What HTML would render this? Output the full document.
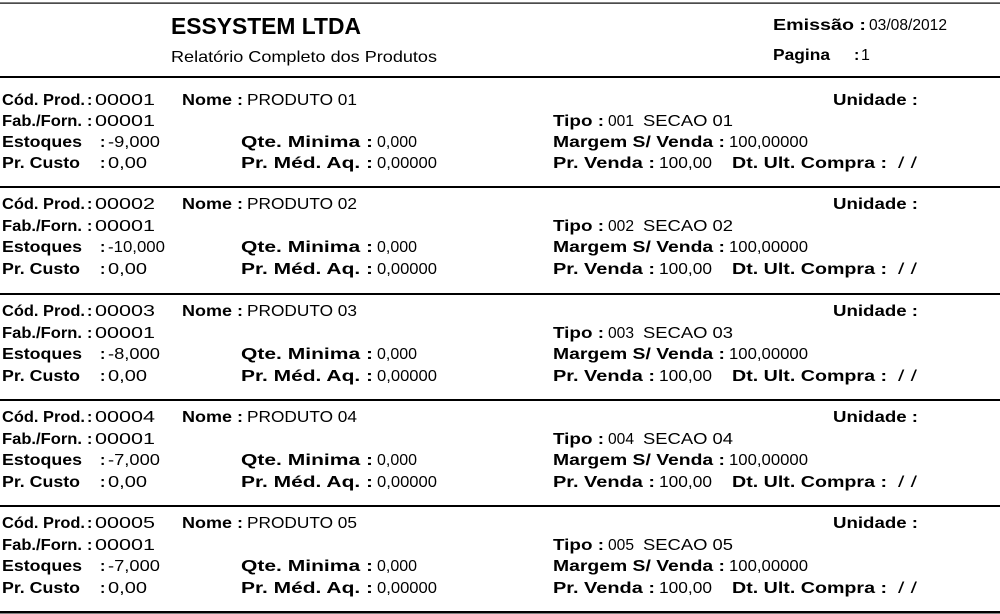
<!DOCTYPE html>
<html>
<head>
<meta charset="utf-8">
<style>
html,body{margin:0;padding:0;background:#fff;}
svg{display:block;}
text{font-family:"Liberation Sans",Arial,sans-serif;font-size:16px;fill:#000;}
.b{font-weight:bold;}
.h1{font-size:23px;font-weight:bold;}
</style>
</head>
<body>
<svg width="1000" height="614" viewBox="0 0 1000 614" xmlns="http://www.w3.org/2000/svg">
<rect x="0" y="0" width="1000" height="614" fill="#fff"/>
<!-- lines -->
<rect x="0" y="2.5" width="1000" height="1.2" fill="#000"/>
<rect x="0" y="76" width="1000" height="2" fill="#000"/>
<rect x="0" y="186" width="1000" height="2" fill="#000"/>
<rect x="0" y="293" width="1000" height="2" fill="#000"/>
<rect x="0" y="399" width="1000" height="2" fill="#000"/>
<rect x="0" y="505" width="1000" height="2" fill="#000"/>
<rect x="0" y="611" width="1000" height="2.5" fill="#000"/>

<!-- header -->
<text x="171" y="34" class="h1" textLength="190" lengthAdjust="spacingAndGlyphs">ESSYSTEM LTDA</text>
<text x="171" y="62" textLength="266" lengthAdjust="spacingAndGlyphs">Relatório Completo dos Produtos</text>
<text x="773" y="30" class="b" textLength="93" lengthAdjust="spacingAndGlyphs">Emissão :</text>
<text x="869" y="30" textLength="78" lengthAdjust="spacingAndGlyphs">03/08/2012</text>
<text x="773" y="60" class="b" textLength="57" lengthAdjust="spacingAndGlyphs">Pagina</text>
<text x="854" y="60" class="b">:</text>
<text x="861" y="60">1</text>

<!-- record 1 -->
<g>
<text x="2" y="105" class="b" textLength="83" lengthAdjust="spacingAndGlyphs">Cód. Prod.</text>
<text x="87" y="105" class="b">:</text>
<text x="95" y="105" textLength="60" lengthAdjust="spacingAndGlyphs">00001</text>
<text x="182" y="105" class="b" textLength="61" lengthAdjust="spacingAndGlyphs">Nome :</text>
<text x="247" y="105" textLength="110" lengthAdjust="spacingAndGlyphs">PRODUTO 01</text>
<text x="833" y="105" class="b" textLength="85" lengthAdjust="spacingAndGlyphs">Unidade :</text>

<text x="2" y="126" class="b" textLength="80" lengthAdjust="spacingAndGlyphs">Fab./Forn.</text>
<text x="87" y="126" class="b">:</text>
<text x="95" y="126" textLength="60" lengthAdjust="spacingAndGlyphs">00001</text>
<text x="553" y="126" class="b" textLength="51" lengthAdjust="spacingAndGlyphs">Tipo :</text>
<text x="608" y="126" textLength="26" lengthAdjust="spacingAndGlyphs">001</text>
<text x="643" y="126" textLength="90" lengthAdjust="spacingAndGlyphs">SECAO 01</text>

<text x="2" y="147" class="b" textLength="80" lengthAdjust="spacingAndGlyphs">Estoques</text>
<text x="100" y="147" class="b">:</text>
<text x="108" y="147" textLength="52" lengthAdjust="spacingAndGlyphs">-9,000</text>
<text x="241" y="147" class="b" textLength="132" lengthAdjust="spacingAndGlyphs">Qte. Minima :</text>
<text x="377" y="147" textLength="40" lengthAdjust="spacingAndGlyphs">0,000</text>
<text x="553" y="147" class="b" textLength="172" lengthAdjust="spacingAndGlyphs">Margem S/ Venda :</text>
<text x="729" y="147" textLength="79" lengthAdjust="spacingAndGlyphs">100,00000</text>

<text x="2" y="168" class="b" textLength="78" lengthAdjust="spacingAndGlyphs">Pr. Custo</text>
<text x="100" y="168" class="b">:</text>
<text x="108" y="168" textLength="39" lengthAdjust="spacingAndGlyphs">0,00</text>
<text x="241" y="168" class="b" textLength="132" lengthAdjust="spacingAndGlyphs">Pr. Méd. Aq. :</text>
<text x="377" y="168" textLength="60" lengthAdjust="spacingAndGlyphs">0,00000</text>
<text x="553" y="168" class="b" textLength="102" lengthAdjust="spacingAndGlyphs">Pr. Venda :</text>
<text x="659" y="168" textLength="53" lengthAdjust="spacingAndGlyphs">100,00</text>
<text x="732" y="168" class="b" textLength="155" lengthAdjust="spacingAndGlyphs">Dt. Ult. Compra :</text>
<text x="898" y="168" textLength="19" lengthAdjust="spacingAndGlyphs">/ /</text>
</g>

<!-- record 2 -->
<g>
<text x="2" y="209" class="b" textLength="83" lengthAdjust="spacingAndGlyphs">Cód. Prod.</text>
<text x="87" y="209" class="b">:</text>
<text x="95" y="209" textLength="60" lengthAdjust="spacingAndGlyphs">00002</text>
<text x="182" y="209" class="b" textLength="61" lengthAdjust="spacingAndGlyphs">Nome :</text>
<text x="247" y="209" textLength="110" lengthAdjust="spacingAndGlyphs">PRODUTO 02</text>
<text x="833" y="209" class="b" textLength="85" lengthAdjust="spacingAndGlyphs">Unidade :</text>

<text x="2" y="231" class="b" textLength="80" lengthAdjust="spacingAndGlyphs">Fab./Forn.</text>
<text x="87" y="231" class="b">:</text>
<text x="95" y="231" textLength="60" lengthAdjust="spacingAndGlyphs">00001</text>
<text x="553" y="231" class="b" textLength="51" lengthAdjust="spacingAndGlyphs">Tipo :</text>
<text x="608" y="231" textLength="26" lengthAdjust="spacingAndGlyphs">002</text>
<text x="643" y="231" textLength="90" lengthAdjust="spacingAndGlyphs">SECAO 02</text>

<text x="2" y="252" class="b" textLength="80" lengthAdjust="spacingAndGlyphs">Estoques</text>
<text x="100" y="252" class="b">:</text>
<text x="108" y="252" textLength="57" lengthAdjust="spacingAndGlyphs">-10,000</text>
<text x="241" y="252" class="b" textLength="132" lengthAdjust="spacingAndGlyphs">Qte. Minima :</text>
<text x="377" y="252" textLength="40" lengthAdjust="spacingAndGlyphs">0,000</text>
<text x="553" y="252" class="b" textLength="172" lengthAdjust="spacingAndGlyphs">Margem S/ Venda :</text>
<text x="729" y="252" textLength="79" lengthAdjust="spacingAndGlyphs">100,00000</text>

<text x="2" y="274" class="b" textLength="78" lengthAdjust="spacingAndGlyphs">Pr. Custo</text>
<text x="100" y="274" class="b">:</text>
<text x="108" y="274" textLength="39" lengthAdjust="spacingAndGlyphs">0,00</text>
<text x="241" y="274" class="b" textLength="132" lengthAdjust="spacingAndGlyphs">Pr. Méd. Aq. :</text>
<text x="377" y="274" textLength="60" lengthAdjust="spacingAndGlyphs">0,00000</text>
<text x="553" y="274" class="b" textLength="102" lengthAdjust="spacingAndGlyphs">Pr. Venda :</text>
<text x="659" y="274" textLength="53" lengthAdjust="spacingAndGlyphs">100,00</text>
<text x="732" y="274" class="b" textLength="155" lengthAdjust="spacingAndGlyphs">Dt. Ult. Compra :</text>
<text x="898" y="274" textLength="19" lengthAdjust="spacingAndGlyphs">/ /</text>
</g>

<!-- record 3 -->
<g>
<text x="2" y="316" class="b" textLength="83" lengthAdjust="spacingAndGlyphs">Cód. Prod.</text>
<text x="87" y="316" class="b">:</text>
<text x="95" y="316" textLength="60" lengthAdjust="spacingAndGlyphs">00003</text>
<text x="182" y="316" class="b" textLength="61" lengthAdjust="spacingAndGlyphs">Nome :</text>
<text x="247" y="316" textLength="110" lengthAdjust="spacingAndGlyphs">PRODUTO 03</text>
<text x="833" y="316" class="b" textLength="85" lengthAdjust="spacingAndGlyphs">Unidade :</text>

<text x="2" y="338" class="b" textLength="80" lengthAdjust="spacingAndGlyphs">Fab./Forn.</text>
<text x="87" y="338" class="b">:</text>
<text x="95" y="338" textLength="60" lengthAdjust="spacingAndGlyphs">00001</text>
<text x="553" y="338" class="b" textLength="51" lengthAdjust="spacingAndGlyphs">Tipo :</text>
<text x="608" y="338" textLength="26" lengthAdjust="spacingAndGlyphs">003</text>
<text x="643" y="338" textLength="90" lengthAdjust="spacingAndGlyphs">SECAO 03</text>

<text x="2" y="359" class="b" textLength="80" lengthAdjust="spacingAndGlyphs">Estoques</text>
<text x="100" y="359" class="b">:</text>
<text x="108" y="359" textLength="52" lengthAdjust="spacingAndGlyphs">-8,000</text>
<text x="241" y="359" class="b" textLength="132" lengthAdjust="spacingAndGlyphs">Qte. Minima :</text>
<text x="377" y="359" textLength="40" lengthAdjust="spacingAndGlyphs">0,000</text>
<text x="553" y="359" class="b" textLength="172" lengthAdjust="spacingAndGlyphs">Margem S/ Venda :</text>
<text x="729" y="359" textLength="79" lengthAdjust="spacingAndGlyphs">100,00000</text>

<text x="2" y="381" class="b" textLength="78" lengthAdjust="spacingAndGlyphs">Pr. Custo</text>
<text x="100" y="381" class="b">:</text>
<text x="108" y="381" textLength="39" lengthAdjust="spacingAndGlyphs">0,00</text>
<text x="241" y="381" class="b" textLength="132" lengthAdjust="spacingAndGlyphs">Pr. Méd. Aq. :</text>
<text x="377" y="381" textLength="60" lengthAdjust="spacingAndGlyphs">0,00000</text>
<text x="553" y="381" class="b" textLength="102" lengthAdjust="spacingAndGlyphs">Pr. Venda :</text>
<text x="659" y="381" textLength="53" lengthAdjust="spacingAndGlyphs">100,00</text>
<text x="732" y="381" class="b" textLength="155" lengthAdjust="spacingAndGlyphs">Dt. Ult. Compra :</text>
<text x="898" y="381" textLength="19" lengthAdjust="spacingAndGlyphs">/ /</text>
</g>

<!-- record 4 -->
<g>
<text x="2" y="422" class="b" textLength="83" lengthAdjust="spacingAndGlyphs">Cód. Prod.</text>
<text x="87" y="422" class="b">:</text>
<text x="95" y="422" textLength="60" lengthAdjust="spacingAndGlyphs">00004</text>
<text x="182" y="422" class="b" textLength="61" lengthAdjust="spacingAndGlyphs">Nome :</text>
<text x="247" y="422" textLength="110" lengthAdjust="spacingAndGlyphs">PRODUTO 04</text>
<text x="833" y="422" class="b" textLength="85" lengthAdjust="spacingAndGlyphs">Unidade :</text>

<text x="2" y="444" class="b" textLength="80" lengthAdjust="spacingAndGlyphs">Fab./Forn.</text>
<text x="87" y="444" class="b">:</text>
<text x="95" y="444" textLength="60" lengthAdjust="spacingAndGlyphs">00001</text>
<text x="553" y="444" class="b" textLength="51" lengthAdjust="spacingAndGlyphs">Tipo :</text>
<text x="608" y="444" textLength="26" lengthAdjust="spacingAndGlyphs">004</text>
<text x="643" y="444" textLength="90" lengthAdjust="spacingAndGlyphs">SECAO 04</text>

<text x="2" y="465" class="b" textLength="80" lengthAdjust="spacingAndGlyphs">Estoques</text>
<text x="100" y="465" class="b">:</text>
<text x="108" y="465" textLength="52" lengthAdjust="spacingAndGlyphs">-7,000</text>
<text x="241" y="465" class="b" textLength="132" lengthAdjust="spacingAndGlyphs">Qte. Minima :</text>
<text x="377" y="465" textLength="40" lengthAdjust="spacingAndGlyphs">0,000</text>
<text x="553" y="465" class="b" textLength="172" lengthAdjust="spacingAndGlyphs">Margem S/ Venda :</text>
<text x="729" y="465" textLength="79" lengthAdjust="spacingAndGlyphs">100,00000</text>

<text x="2" y="487" class="b" textLength="78" lengthAdjust="spacingAndGlyphs">Pr. Custo</text>
<text x="100" y="487" class="b">:</text>
<text x="108" y="487" textLength="39" lengthAdjust="spacingAndGlyphs">0,00</text>
<text x="241" y="487" class="b" textLength="132" lengthAdjust="spacingAndGlyphs">Pr. Méd. Aq. :</text>
<text x="377" y="487" textLength="60" lengthAdjust="spacingAndGlyphs">0,00000</text>
<text x="553" y="487" class="b" textLength="102" lengthAdjust="spacingAndGlyphs">Pr. Venda :</text>
<text x="659" y="487" textLength="53" lengthAdjust="spacingAndGlyphs">100,00</text>
<text x="732" y="487" class="b" textLength="155" lengthAdjust="spacingAndGlyphs">Dt. Ult. Compra :</text>
<text x="898" y="487" textLength="19" lengthAdjust="spacingAndGlyphs">/ /</text>
</g>

<!-- record 5 -->
<g>
<text x="2" y="528" class="b" textLength="83" lengthAdjust="spacingAndGlyphs">Cód. Prod.</text>
<text x="87" y="528" class="b">:</text>
<text x="95" y="528" textLength="60" lengthAdjust="spacingAndGlyphs">00005</text>
<text x="182" y="528" class="b" textLength="61" lengthAdjust="spacingAndGlyphs">Nome :</text>
<text x="247" y="528" textLength="110" lengthAdjust="spacingAndGlyphs">PRODUTO 05</text>
<text x="833" y="528" class="b" textLength="85" lengthAdjust="spacingAndGlyphs">Unidade :</text>

<text x="2" y="550" class="b" textLength="80" lengthAdjust="spacingAndGlyphs">Fab./Forn.</text>
<text x="87" y="550" class="b">:</text>
<text x="95" y="550" textLength="60" lengthAdjust="spacingAndGlyphs">00001</text>
<text x="553" y="550" class="b" textLength="51" lengthAdjust="spacingAndGlyphs">Tipo :</text>
<text x="608" y="550" textLength="26" lengthAdjust="spacingAndGlyphs">005</text>
<text x="643" y="550" textLength="90" lengthAdjust="spacingAndGlyphs">SECAO 05</text>

<text x="2" y="571" class="b" textLength="80" lengthAdjust="spacingAndGlyphs">Estoques</text>
<text x="100" y="571" class="b">:</text>
<text x="108" y="571" textLength="52" lengthAdjust="spacingAndGlyphs">-7,000</text>
<text x="241" y="571" class="b" textLength="132" lengthAdjust="spacingAndGlyphs">Qte. Minima :</text>
<text x="377" y="571" textLength="40" lengthAdjust="spacingAndGlyphs">0,000</text>
<text x="553" y="571" class="b" textLength="172" lengthAdjust="spacingAndGlyphs">Margem S/ Venda :</text>
<text x="729" y="571" textLength="79" lengthAdjust="spacingAndGlyphs">100,00000</text>

<text x="2" y="593" class="b" textLength="78" lengthAdjust="spacingAndGlyphs">Pr. Custo</text>
<text x="100" y="593" class="b">:</text>
<text x="108" y="593" textLength="39" lengthAdjust="spacingAndGlyphs">0,00</text>
<text x="241" y="593" class="b" textLength="132" lengthAdjust="spacingAndGlyphs">Pr. Méd. Aq. :</text>
<text x="377" y="593" textLength="60" lengthAdjust="spacingAndGlyphs">0,00000</text>
<text x="553" y="593" class="b" textLength="102" lengthAdjust="spacingAndGlyphs">Pr. Venda :</text>
<text x="659" y="593" textLength="53" lengthAdjust="spacingAndGlyphs">100,00</text>
<text x="732" y="593" class="b" textLength="155" lengthAdjust="spacingAndGlyphs">Dt. Ult. Compra :</text>
<text x="898" y="593" textLength="19" lengthAdjust="spacingAndGlyphs">/ /</text>
</g>
</svg>
</body>
</html>
